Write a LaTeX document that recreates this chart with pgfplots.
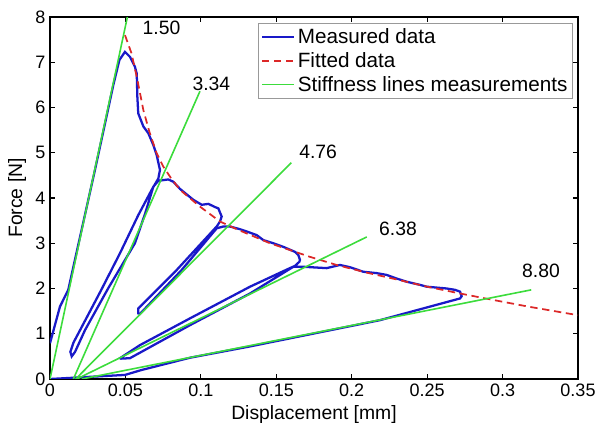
\documentclass[border=0pt]{standalone}
\usepackage{pgfplots}
\pgfplotsset{compat=1.18}
\usepackage{fontspec}
\setmainfont{Liberation Sans}
\newcommand\tickfont{\fontsize{13.5}{16}\selectfont}
\newcommand\labelfont{\fontsize{14.5}{17}\selectfont}
\newcommand\legfont{\fontsize{15.5}{17}\selectfont}
\definecolor{measblue}{RGB}{25,25,200}
\definecolor{fitred}{RGB}{220,40,40}
\definecolor{stiffgreen}{RGB}{60,220,60}

\begin{document}
\begin{tikzpicture}
\begin{axis}[
    scale only axis,
    width=396pt,
    height=271.5pt,
    xmin=0, xmax=0.35,
    ymin=0, ymax=8,
    xtick={0,0.05,0.1,0.15,0.2,0.25,0.3,0.35},
    ytick={0,1,2,3,4,5,6,7,8},
    scaled x ticks=false,
    xticklabel style={/pgf/number format/fixed, /pgf/number format/precision=2},
    /pgf/number format/assume math mode=true,
    tick align=inside,
    major tick length=3.75pt,
    axis line style={line width=0.8pt},
    tick style={line width=0.8pt, black},
    tick label style={font=\tickfont},
    xlabel={Displacement [mm]},
    ylabel={Force [N]},
    label style={font=\labelfont},
    legend style={at={(0.9905,0.984)}, anchor=north east, draw=gray!80,
        font=\legfont, row sep=1.2pt, inner sep=2pt},
    legend cell align=left,
    legend image code/.code={\draw[#1] (0pt,0pt) -- (24pt,0pt);},
]
% measured data, one continuous path through the cycles
\addplot[color=measblue, line width=1.7pt] coordinates {
    (0,0.79) (0.0066,1.6) (0.0121,1.97) (0.030,4.65) (0.042,6.5) (0.046,7.05)
    (0.0497,7.23) (0.053,7.12) (0.0563,6.9) (0.0575,6.75) (0.0579,6.24)
    (0.0585,5.87) (0.0619,5.58) (0.0652,5.43) (0.0685,5.17) (0.0707,4.95)
    (0.0729,4.62) (0.0718,4.43) (0.0674,4.18) (0.0585,3.62) (0.0464,2.78)
    (0.034,1.97) (0.0155,0.8) (0.0135,0.6) (0.0144,0.5) (0.0166,0.6)
    (0.0232,1.08) (0.0385,2.0) (0.0563,3.0) (0.063,3.65) (0.0685,4.25)
    (0.0718,4.38) (0.0784,4.41)
    (0.0817,4.36) (0.0862,4.2) (0.095,3.96) (0.1006,3.85) (0.105,3.87)
    (0.1094,3.80) (0.1116,3.77) (0.1138,3.59) (0.1127,3.48) (0.1105,3.37)
    (0.1083,3.29) (0.084,2.41) (0.0585,1.56) (0.0585,1.45) (0.0597,1.44)
    (0.0873,2.41) (0.1105,3.33) (0.1149,3.37) (0.1193,3.37) (0.126,3.31)
    (0.1304,3.26) (0.137,3.18) (0.1414,3.07) (0.148,3.0) (0.1547,2.92)
    (0.1624,2.81) (0.1646,2.74) (0.1657,2.63) (0.1653,2.59) (0.1624,2.50)
    (0.159,2.45) (0.1326,2.04) (0.0928,1.34) (0.0597,0.75) (0.0464,0.46)
    (0.047,0.45) (0.053,0.46) (0.0928,1.19) (0.1326,1.89) (0.1613,2.48)
    (0.168,2.48) (0.1834,2.45) (0.1922,2.52) (0.1989,2.47) (0.2077,2.37)
    (0.2165,2.34) (0.2232,2.30) (0.2298,2.22) (0.2364,2.15) (0.2453,2.08)
    (0.2497,2.04) (0.263,2.0) (0.2685,1.97) (0.2718,1.93) (0.2729,1.83)
    (0.2718,1.78) (0.2187,1.30) (0.1326,0.72) (0.0928,0.47) (0.0608,0.2)
    (0.0497,0.09) (0,0)
};
% fitted data
\addplot[color=fitred, line width=1.3pt, dash pattern=on 5.5pt off 3.5pt] coordinates {
    (0.0497,7.6) (0.054,7.2) (0.058,6.6) (0.0619,5.94) (0.066,5.45)
    (0.0707,4.99) (0.075,4.7) (0.08,4.45) (0.0862,4.18) (0.0994,3.81)
    (0.1127,3.48) (0.1238,3.31) (0.1458,3.0) (0.1723,2.70) (0.19,2.52)
    (0.21,2.35) (0.2298,2.20) (0.25,2.04) (0.2718,1.89) (0.2917,1.76)
    (0.317,1.6) (0.35,1.41)
};
% stiffness lines
\addplot[color=stiffgreen, line width=1.2pt] coordinates {(0,0) (0.0513,8)};
\addplot[color=stiffgreen, line width=1.2pt, forget plot] coordinates {(0.0155,0) (0.0994,6.36)};
\addplot[color=stiffgreen, line width=1.2pt, forget plot] coordinates {(0.017,0) (0.160,4.78)};
\addplot[color=stiffgreen, line width=1.2pt, forget plot] coordinates {(0.0177,0) (0.210,3.14)};
\addplot[color=stiffgreen, line width=1.2pt, forget plot] coordinates {(0.021,0) (0.319,1.97)};
\legend{Measured data, Fitted data, Stiffness lines measurements}
\node[font=\labelfont] at (axis cs:0.0739,7.75) {1.50};
\node[font=\labelfont] at (axis cs:0.107,6.52) {3.34};
\node[font=\labelfont] at (axis cs:0.1777,5.02) {4.76};
\node[font=\labelfont] at (axis cs:0.2307,3.31) {6.38};
\node[font=\labelfont] at (axis cs:0.3255,2.38) {8.80};
\end{axis}
\pgfresetboundingbox
\path ([shift={(-37.5pt,-36.75pt)}]current axis.south west)
    rectangle ([shift={(16.5pt,12.75pt)}]current axis.north east);
\end{tikzpicture}
\end{document}
